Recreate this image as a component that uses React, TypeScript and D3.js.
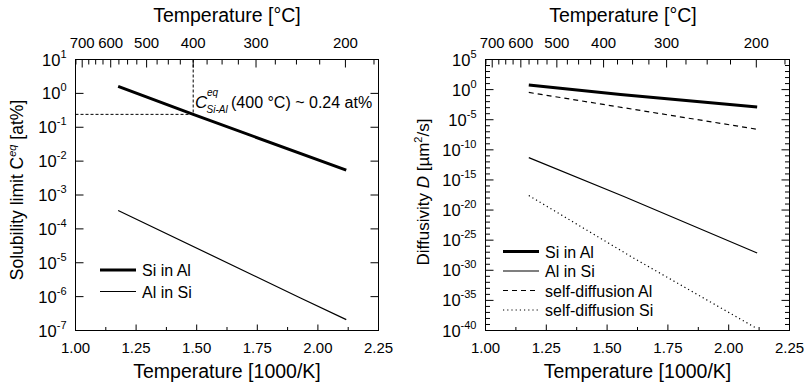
import React from 'react';
import * as d3 from 'd3';

// Solubility limit (left panel), x in 1000/K, y in at%
const siInAlSolX = [1.176, 1.4856, 2.117];
const siInAlSolY = [1.6, 0.24, 0.0054];
const alInSiSolX = [1.176, 1.926, 2.117];
const alInSiSolY = [3.5e-4, 9.3e-7, 2.1e-7];

// Diffusivity (right panel), y in um^2/s
const siInAlDX = [1.178, 1.555, 2.117];
const siInAlDY = [5.6, 0.16, 1.35e-3];
const alInSiDX = [1.178, 1.569, 2.117];
const alInSiDY = [5e-12, 1.8e-18, 7.4e-28];
const selfAlDX = [1.178, 2.117];
const selfAlDY = [0.34, 2.6e-7];
const selfSiDX = [1.178, 1.61, 2.117];
const selfSiDY = [2.6e-18, 1e-28, 2e-40];

const xTicks = [1.0, 1.25, 1.5, 1.75, 2.0, 2.25];
const xMinor = [1.125, 1.375, 1.625, 1.875, 2.125];
const celsiusLabels = [700, 600, 500, 400, 300, 200];
const celsiusMinor = [725, 675, 650, 625, 575, 550, 525, 475, 450, 425, 375, 350, 325, 275, 250, 225, 175];
const solExps = [1, 0, -1, -2, -3, -4, -5, -6, -7];
const diffExps = [5, 0, -5, -10, -15, -20, -25, -30, -35, -40];

const FONT = "'Liberation Sans', Arial, sans-serif";
const toInv = (c: number) => 1000 / (c + 273.15);

type Series = { xs: number[]; ys: number[]; width: number; dash?: string; name: string };

const Panel = ({ left, right, top, bottom, yDomain, majorExps, minorExps, series, legendX, legendY, legendGap, titleTopX, children }: any) => {
  const x = d3.scaleLinear().domain([1.0, 2.25]).range([left, right]);
  const y = d3.scaleLog().domain(yDomain).range([bottom, top]);
  const line = d3.line<[number, number]>().x(d => x(d[0])).y(d => y(d[1]));
  const midX = (left + right) / 2;
  return (
    <g fontFamily={FONT} fill="#000">
      {/* frame */}
      <rect x={left} y={top} width={right - left} height={bottom - top} fill="none" stroke="#000" strokeWidth={1} />
      {/* bottom axis */}
      {xTicks.map(t => (
        <g key={'xt' + t}>
          <line x1={x(t)} x2={x(t)} y1={bottom} y2={bottom - 6} stroke="#000" />
          <text x={x(t)} y={bottom + 22} textAnchor="middle" fontSize={15}>{t.toFixed(2)}</text>
        </g>
      ))}
      {xMinor.filter(t => t < 2.25).map(t => (
        <line key={'xm' + t} x1={x(t)} x2={x(t)} y1={bottom} y2={bottom - 3.5} stroke="#000" />
      ))}
      <text x={midX} y={bottom + 47} textAnchor="middle" fontSize={19.5}>Temperature [1000/K]</text>
      {/* top axis, Celsius */}
      {celsiusLabels.map(c => (
        <g key={'ct' + c}>
          <line x1={x(toInv(c))} x2={x(toInv(c))} y1={top} y2={top + 8} stroke="#000" />
          <text x={x(toInv(c))} y={top - 12} textAnchor="middle" fontSize={15}>{c}</text>
        </g>
      ))}
      {celsiusMinor.map(c => (
        <line key={'cm' + c} x1={x(toInv(c))} x2={x(toInv(c))} y1={top} y2={top + 5} stroke="#000" />
      ))}
      <text x={titleTopX ?? midX} y={top - 38} textAnchor="middle" fontSize={19.5}>Temperature [°C]</text>
      {/* y axis */}
      {majorExps.map((e: number) => (
        <g key={'ye' + e}>
          <line x1={left} x2={left + 8} y1={y(Math.pow(10, e))} y2={y(Math.pow(10, e))} stroke="#000" />
          <line x1={right} x2={right - 8} y1={y(Math.pow(10, e))} y2={y(Math.pow(10, e))} stroke="#000" />
          <text x={left - 9} y={y(Math.pow(10, e)) + 6} textAnchor="end" fontSize={16.5}>
            10<tspan dy={-8} fontSize={11}>{e}</tspan>
          </text>
        </g>
      ))}
      {minorExps.map((e: number) => (
        <g key={'ym' + e}>
          <line x1={left} x2={left + 4.5} y1={y(Math.pow(10, e))} y2={y(Math.pow(10, e))} stroke="#000" />
          <line x1={right} x2={right - 4.5} y1={y(Math.pow(10, e))} y2={y(Math.pow(10, e))} stroke="#000" />
        </g>
      ))}
      {children && children(x, y)}
      {/* data */}
      {series.map((s: Series) => (
        <path key={s.name} d={line(s.xs.map((v, i) => [v, s.ys[i]]) as [number, number][]) || ''}
          fill="none" stroke="#000" strokeWidth={s.width} strokeDasharray={s.dash} />
      ))}
      {/* legend */}
      {series.map((s: Series, i: number) => (
        <g key={'lg' + s.name}>
          <line x1={legendX} x2={legendX + 36} y1={legendY + i * legendGap} y2={legendY + i * legendGap}
            stroke="#000" strokeWidth={s.width} strokeDasharray={s.dash} />
          <text x={legendX + 42} y={legendY + i * legendGap + 6} fontSize={16}>{s.name}</text>
        </g>
      ))}
    </g>
  );
};

const range = (a: number, b: number) => d3.range(a, b - 1, -1);

export default function App() {
  const top = 59.5;
  const bottom = 330.5;
  const leftSeries: Series[] = [
    { xs: siInAlSolX, ys: siInAlSolY, width: 3, name: 'Si in Al' },
    { xs: alInSiSolX, ys: alInSiSolY, width: 1.2, name: 'Al in Si' },
  ];
  const rightSeries: Series[] = [
    { xs: siInAlDX, ys: siInAlDY, width: 3, name: 'Si in Al' },
    { xs: alInSiDX, ys: alInSiDY, width: 1.2, name: 'Al in Si' },
    { xs: selfAlDX, ys: selfAlDY, width: 1.2, dash: '5,4', name: 'self-diffusion Al' },
    { xs: selfSiDX, ys: selfSiDY, width: 1.2, dash: '1.2,3', name: 'self-diffusion Si' },
  ];
  const diffMinor = range(5, -40).filter(e => e % 5 !== 0);
  return (
    <svg width={811} height={390} style={{ position: 'absolute', left: 0, top: 0, background: '#fff' }}>
      <Panel left={75.5} right={378.5} top={top} bottom={bottom} yDomain={[1e-7, 1e1]}
        majorExps={solExps} minorExps={[]} series={leftSeries}
        legendX={100} legendY={270} legendGap={21.5}>
        {(x: any, y: any) => (
          <g>
            <line x1={x(toInv(400))} x2={x(toInv(400))} y1={top} y2={y(0.24)} stroke="#000" strokeWidth={1} strokeDasharray="3,2" />
            <line x1={75.5} x2={x(toInv(400))} y1={y(0.24)} y2={y(0.24)} stroke="#000" strokeWidth={1} strokeDasharray="3,2" />
            <text x={195} y={108} fontSize={17} fontFamily={FONT}>
              <tspan fontStyle="italic">C</tspan>
            </text>
            <text x={207} y={96} fontSize={10} fontStyle="italic" fontFamily={FONT}>eq</text>
            <text x={206.5} y={113} fontSize={10} fontStyle="italic" fontFamily={FONT}>Si-Al</text>
            <text x={231} y={108} fontSize={16} fontFamily={FONT}>(400 °C) ~ 0.24 at%</text>
          </g>
        )}
      </Panel>
      <text transform="translate(23,190) rotate(-90)" textAnchor="middle" fontSize={17.5} fontFamily={FONT}>
        Solubility limit C<tspan fontStyle="italic" fontSize={11} dy={-7}>eq</tspan><tspan dy={7}> [at%]</tspan>
      </text>
      <Panel left={485.5} right={789.5} top={top} bottom={bottom} yDomain={[1e-40, 1e5]}
        majorExps={diffExps} minorExps={diffMinor} series={rightSeries}
        legendX={503} legendY={251.5} legendGap={19.5} titleTopX={623} />
      <text transform="translate(429,192) rotate(-90)" textAnchor="middle" fontSize={17} fontFamily={FONT}>
        Diffusivity <tspan fontStyle="italic">D</tspan> [µm<tspan fontSize={11} dy={-7}>2</tspan><tspan dy={7}>/s]</tspan>
      </text>
    </svg>
  );
}
